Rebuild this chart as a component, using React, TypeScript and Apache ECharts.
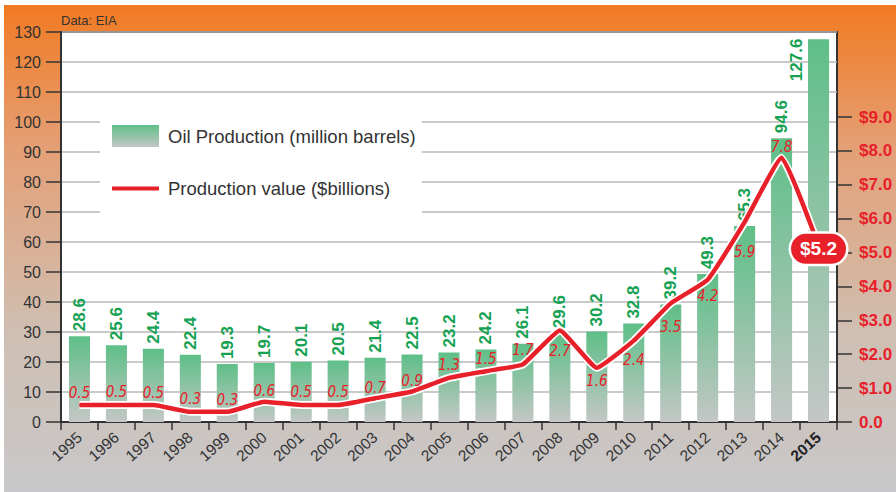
import React, { useEffect, useRef } from 'react';
import * as echarts from 'echarts';

const years = ['1995', '1996', '1997', '1998', '1999', '2000', '2001', '2002', '2003', '2004', '2005', '2006', '2007', '2008', '2009', '2010', '2011', '2012', '2013', '2014', '2015'];
const oilProduction = [28.6, 25.6, 24.4, 22.4, 19.3, 19.7, 20.1, 20.5, 21.4, 22.5, 23.2, 24.2, 26.1, 29.6, 30.2, 32.8, 39.2, 49.3, 65.3, 94.6, 127.6];
const productionValue = [0.5, 0.5, 0.5, 0.3, 0.3, 0.6, 0.5, 0.5, 0.7, 0.9, 1.3, 1.5, 1.7, 2.7, 1.6, 2.4, 3.5, 4.2, 5.9, 7.8, 5.2];

// label vertical offsets (style only)
const LINE_LABEL_DY = [-12, -13, -12, -13, -12, -11, -13, -13, -10, -11, -13, -12, -14, 20, 13, 19, 24, 16, 30, -11, 0];

const OIL_NAME = 'Oil Production (million barrels)';
const VALUE_NAME = 'Production value ($billions)';

export default function App() {
  const ref = useRef<HTMLDivElement>(null);
  useEffect(() => {
    const chart = echarts.init(ref.current!, null, { renderer: 'svg' });
    const red = '#E8202A';
    const dark = '#333';
    const font = 'Liberation Sans, Arial, sans-serif';
    const narrow = 'Liberation Sans Narrow, DejaVu Sans Condensed, sans-serif';
    const lastIdx = years.length - 1;

    const barGradient = new echarts.graphic.LinearGradient(0, 0, 0, 1, [
      { offset: 0, color: '#5EBF87' },
      { offset: 1, color: '#C4C7C6' },
    ]);
    const bgGradient = new echarts.graphic.LinearGradient(0, 0, 0, 1, [
      { offset: 0, color: '#F17A22' },
      { offset: 0.3, color: '#E4A077' },
      { offset: 0.68, color: '#CFBFB3' },
      { offset: 1, color: '#C8C8CA' },
    ]);

    const barData = oilProduction.map((v, i) =>
      i === lastIdx
        ? { value: v, label: { position: [-11, 42], align: 'left', verticalAlign: 'middle' } }
        : { value: v }
    );

    const lineData = productionValue.map((v, i) =>
      i === lastIdx
        ? {
            value: v,
            label: {
              show: true,
              position: 'inside',
              offset: [0, 3],
              formatter: (p: any) => '$' + Number(p.value).toFixed(1),
              color: '#fff',
              fontWeight: 'bold',
              fontStyle: 'normal',
              fontSize: 19,
              fontFamily: font,
              backgroundColor: red,
              borderColor: '#fff',
              borderWidth: 2.5,
              borderRadius: 16,
              padding: [6, 9, 5, 9],
            },
          }
        : { value: v, label: { offset: [0, LINE_LABEL_DY[i]] } }
    );

    const option: any = {
      animation: false,
      graphic: [
        {
          type: 'rect',
          z: -10,
          silent: true,
          shape: { x: 4, y: 5, width: 892, height: 487 },
          style: { fill: bgGradient },
        },
        {
          type: 'text',
          z: 10,
          left: 61,
          top: 14,
          style: { text: 'Data: EIA', fill: dark, fontSize: 13, fontFamily: font },
        },
      ],
      legend: {
        orient: 'vertical',
        left: 100,
        top: 105,
        backgroundColor: '#fff',
        padding: [20, 6, 20, 12],
        itemGap: 32,
        itemWidth: 47,
        itemHeight: 22,
        textStyle: { color: dark, fontSize: 18.5, fontFamily: font, padding: [0, 0, 0, 4] },
        data: [
          { name: OIL_NAME, icon: 'rect' },
          { name: VALUE_NAME, icon: 'path://M0,0h47v4h-47z' },
        ],
        selectedMode: false,
      },
      grid: [
        { left: 61, right: 59, top: 32, bottom: 70, show: true, backgroundColor: '#fff', borderColor: dark, borderWidth: 2 },
        { left: 61, right: 59, top: 117, bottom: 70 },
      ],
      xAxis: [
        {
          type: 'category',
          gridIndex: 0,
          data: years,
          boundaryGap: true,
          axisLine: { lineStyle: { color: dark, width: 2 } },
          axisTick: { show: true, length: 8, lineStyle: { color: dark, width: 1.5 } },
          axisLabel: {
            interval: 0,
            rotate: 42,
            fontSize: 15.5,
            color: dark,
            margin: 13,
            fontFamily: font,
            formatter: (v: string) => (v === '2015' ? '{b|' + v + '}' : v),
            rich: { b: { fontWeight: 'bold', fontSize: 15.5, color: '#222', fontFamily: font } },
          },
        },
        { type: 'category', gridIndex: 1, data: years, boundaryGap: true, show: false },
      ],
      yAxis: [
        {
          type: 'value',
          gridIndex: 0,
          min: 0,
          max: 130,
          interval: 10,
          axisLine: { show: true, lineStyle: { color: dark, width: 2 } },
          axisTick: { show: true, length: 15, lineStyle: { color: dark, width: 1.5 } },
          axisLabel: { fontSize: 16, color: dark, margin: 20, fontFamily: font },
          splitLine: { lineStyle: { color: '#b8b8b8', width: 1.5 } },
        },
        {
          type: 'value',
          gridIndex: 1,
          position: 'right',
          min: 0,
          max: 9,
          interval: 1,
          axisLine: { show: true, lineStyle: { color: dark, width: 2 } },
          axisTick: { show: true, length: 15, lineStyle: { color: dark, width: 1.5 } },
          axisLabel: {
            margin: 22,
            color: red,
            fontWeight: 'bold',
            fontSize: 17,
            fontFamily: font,
            formatter: (v: number) => (v === 0 ? '0.0' : '$' + v.toFixed(1)),
          },
          splitLine: { show: false },
        },
      ],
      series: [
        {
          name: OIL_NAME,
          type: 'bar',
          xAxisIndex: 0,
          yAxisIndex: 0,
          data: barData,
          barWidth: '57%',
          itemStyle: { color: barGradient },
          label: {
            show: true,
            position: 'top',
            distance: 5,
            rotate: 90,
            align: 'left',
            verticalAlign: 'middle',
            color: '#17A253',
            fontWeight: 'bold',
            fontSize: 17,
            fontFamily: font,
          },
        },
        {
          name: 'outline',
          type: 'line',
          xAxisIndex: 1,
          yAxisIndex: 1,
          data: productionValue,
          smooth: 0.12,
          symbol: 'none',
          silent: true,
          lineStyle: { color: '#fff', width: 8 },
          itemStyle: { color: '#fff' },
          label: { show: false },
        },
        {
          name: VALUE_NAME,
          type: 'line',
          xAxisIndex: 1,
          yAxisIndex: 1,
          data: lineData,
          smooth: 0.12,
          symbol: 'circle',
          symbolSize: 1,
          showSymbol: true,
          lineStyle: { color: red, width: 4.5 },
          itemStyle: { color: red },
          label: {
            show: true,
            position: 'inside',
            formatter: (p: any) => Number(p.value).toFixed(1),
            color: red,
            fontStyle: 'italic',
            fontSize: 15,
            fontFamily: narrow,
          },
        },
      ],
    };
    chart.setOption(option);
    return () => chart.dispose();
  }, []);
  return <div ref={ref} style={{ position: 'absolute', left: 0, top: 0, width: 896, height: 492 }} />;
}
